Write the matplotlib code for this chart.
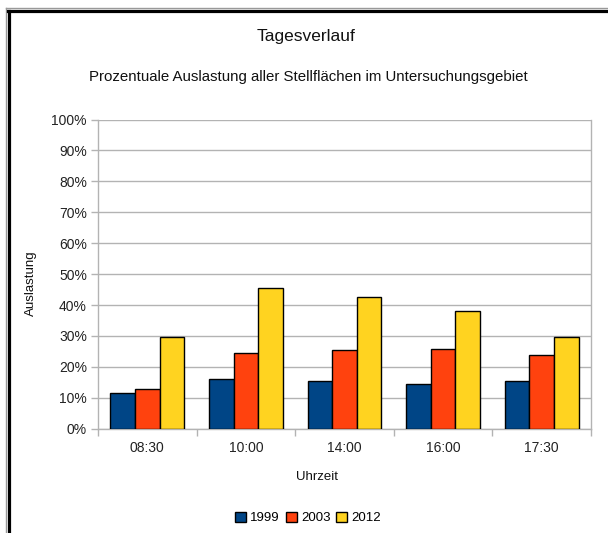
import matplotlib.pyplot as plt
import numpy as np
from matplotlib.lines import Line2D
from matplotlib.ticker import FixedLocator, PercentFormatter

plt.rcParams["font.family"] = ["Liberation Sans", "DejaVu Sans"]

TIMES = ["08:30", "10:00", "14:00", "16:00", "17:30"]
YEARS = ["1999", "2003", "2012"]
V1999 = [11.5, 16.2, 15.3, 14.6, 15.3]
V2003 = [12.8, 24.4, 25.4, 25.8, 23.7]
V2012 = [29.8, 45.5, 42.5, 38.0, 29.6]
COLORS = ["#004586", "#ff420e", "#ffd320"]

W, H = 608, 533
fig = plt.figure(figsize=(W / 100, H / 100), dpi=100)
fig.patch.set_facecolor("white")

ax = fig.add_axes([98 / W, 1 - 428.7 / H, (591 - 98) / W, (428.7 - 119.5) / H])

x = np.arange(len(TIMES))
bw = 0.25
for i, (vals, col, lab) in enumerate(zip([V1999, V2003, V2012], COLORS, YEARS)):
    ax.bar(x + (i - 1) * bw, vals, width=bw, color=col, edgecolor="black",
           linewidth=1.0, label=lab, zorder=3)

ax.set_xlim(-0.5, len(TIMES) - 0.5)
ax.set_ylim(0, 100)
ax.set_yticks(np.arange(0, 101, 10))
ax.yaxis.set_major_formatter(PercentFormatter(decimals=0))
ax.grid(axis="y", color="#b3b3b3", linewidth=1.0, zorder=0)

ax.set_xticks(x)
ax.set_xticklabels(TIMES)
ax.xaxis.set_minor_locator(FixedLocator(np.arange(-0.5, len(TIMES), 1.0)))
ax.tick_params(axis="x", which="major", length=0, pad=9, labelsize=10,
               labelcolor="#222222")
ax.tick_params(axis="x", which="minor", length=5, color="#b3b3b3", width=1)
ax.tick_params(axis="y", length=5, color="#b3b3b3", width=1, labelsize=10,
               pad=3, labelcolor="#222222")

for side in ["left", "right", "bottom"]:
    ax.spines[side].set_color("#b3b3b3")
    ax.spines[side].set_linewidth(1.0)
ax.spines["top"].set_visible(False)

fig.text(306 / W, 1 - 37 / H, "Tagesverlauf", ha="center", va="center",
         fontsize=12.5, color="#111111")
fig.text(308 / W, 1 - 77 / H,
         "Prozentuale Auslastung aller Stellflächen im Untersuchungsgebiet",
         ha="center", va="center", fontsize=10.8, color="#111111")
fig.text(317 / W, 1 - 477 / H, "Uhrzeit", ha="center", va="center",
         fontsize=9.5, color="#111111")
fig.text(31 / W, 1 - 283 / H, "Auslastung", ha="center", va="center",
         rotation=90, fontsize=9.5, color="#111111")

leg = fig.legend(loc="center", bbox_to_anchor=(308 / W, 1 - 518 / H), ncol=3,
                 frameon=False, fontsize=9.5, handlelength=0.85, handleheight=0.85,
                 handletextpad=0.3, columnspacing=0.45, borderaxespad=0)

# outer frame (cropped: only left and top edges visible)
fig.add_artist(Line2D([6 / W, 6 / W], [0, 1 - 8 / H], color="#999999",
                      linewidth=1, transform=fig.transFigure))
fig.add_artist(Line2D([6 / W, 1], [1 - 8 / H, 1 - 8 / H], color="#999999",
                      linewidth=1, transform=fig.transFigure))
fig.add_artist(Line2D([8.5 / W, 8.5 / W], [0, 1 - 10.5 / H], color="black",
                      linewidth=2.3, transform=fig.transFigure))
fig.add_artist(Line2D([7.5 / W, 1], [1 - 10.5 / H, 1 - 10.5 / H], color="black",
                      linewidth=2.3, transform=fig.transFigure))

fig.savefig("out.png", dpi=100)
